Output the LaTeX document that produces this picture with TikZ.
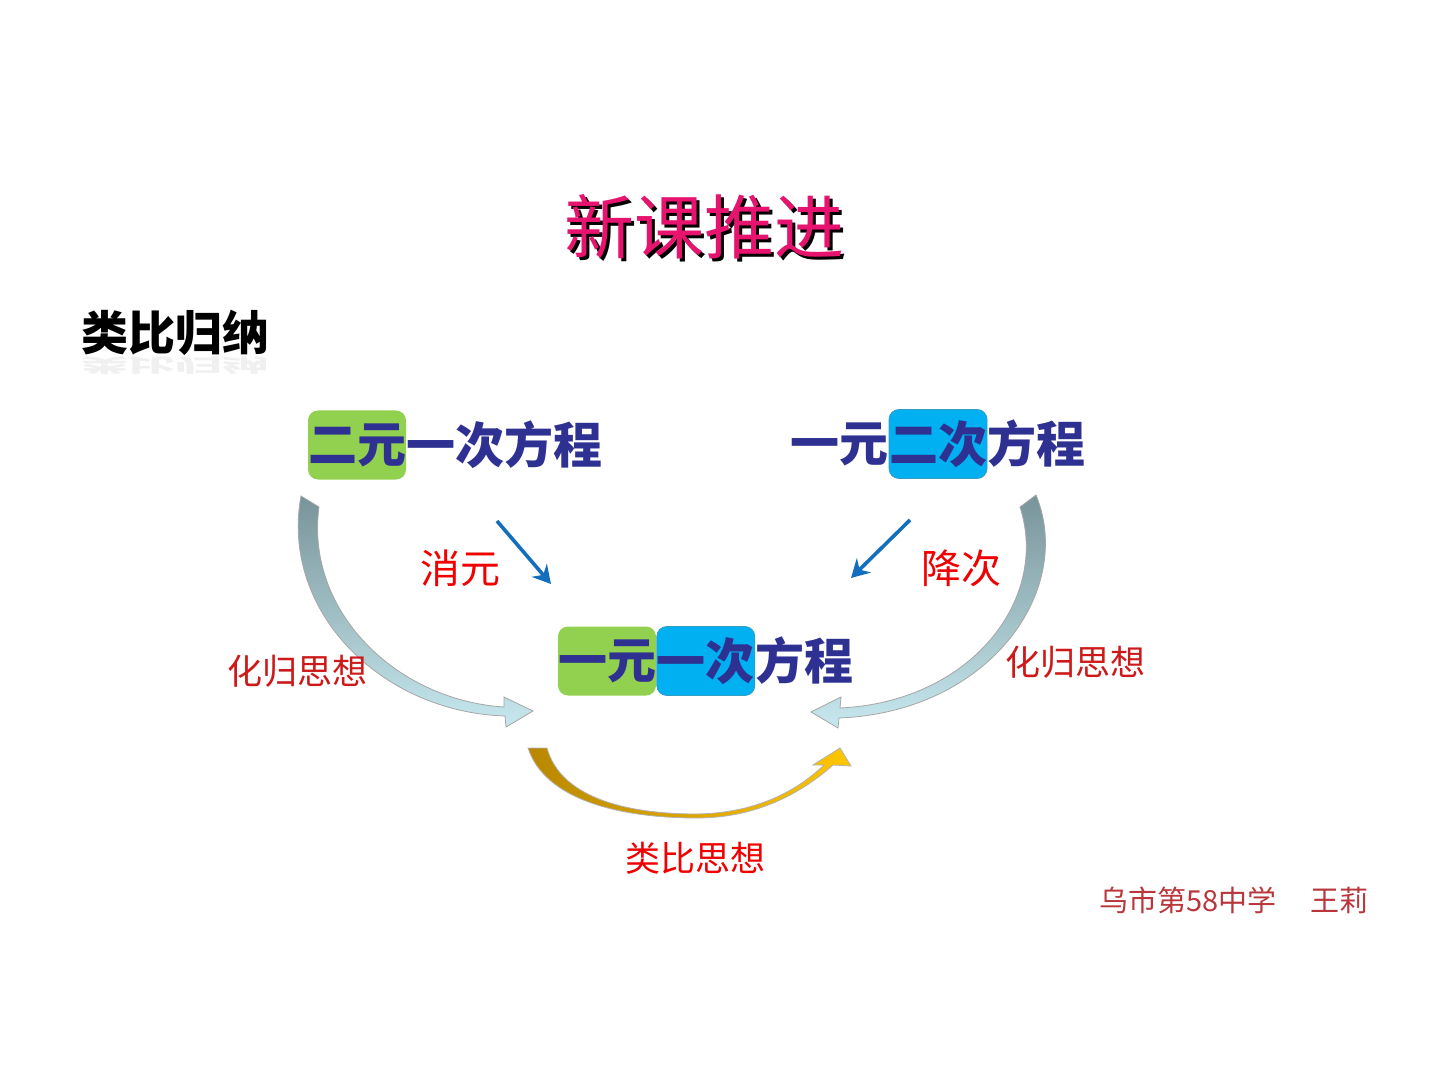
\documentclass[tikz,border=0pt]{standalone}
\usepackage{fontspec}
\usepackage{tikz}
\usetikzlibrary{arrows.meta,positioning}
\usepackage{xcolor}
\newfontfamily\cjk{Noto Sans CJK SC}
\definecolor{titlepink}{RGB}{230,20,110}
\definecolor{eqblue}{RGB}{46,49,146}
\definecolor{boxgreen}{RGB}{146,208,80}
\definecolor{boxblue}{RGB}{0,176,240}
\definecolor{arrowblue}{RGB}{20,110,190}
\definecolor{labelred}{RGB}{240,0,0}
\definecolor{ideared}{RGB}{205,25,25}
\definecolor{signred}{RGB}{185,55,60}
\definecolor{ribbontop}{RGB}{120,148,154}
\definecolor{ribbonbot}{RGB}{198,232,238}
\definecolor{golddark}{RGB}{185,135,0}
\definecolor{goldlight}{RGB}{255,198,0}
\tikzset{
  titletext/.style={
    inner sep=0pt,
    text=titlepink,
    font=\cjk\fontsize{35}{40}\selectfont
  },
  headtext/.style={
    inner sep=0pt,
    font=\cjk\bfseries\fontsize{23.5}{28}\selectfont
  },
  eqtext/.style={
    inner sep=0pt,
    text=eqblue,
    font=\cjk\bfseries\fontsize{24.5}{28}\selectfont
  },
  greenbox/.style={
    eqtext,
    fill=boxgreen,
    rounded corners=5pt,
    minimum width=48pt,
    minimum height=34.5pt
  },
  bluebox/.style={
    eqtext,
    fill=boxblue,
    draw=boxblue!60!gray,
    rounded corners=5pt,
    minimum width=48pt,
    minimum height=34.5pt
  },
  steptext/.style={
    inner sep=0pt,
    text=labelred,
    font=\cjk\fontsize{20}{24}\selectfont
  },
  ideatext/.style={
    inner sep=0pt,
    text=ideared,
    font=\cjk\fontsize{17.5}{21}\selectfont
  },
  signtext/.style={
    inner sep=0pt,
    text=signred,
    font=\cjk\fontsize{14.5}{18}\selectfont
  },
  stepline/.style={
    -{Stealth[length=9pt,width=10pt,inset=3pt]},
    line width=1.8pt,
    draw=arrowblue
  },
  grayribbon/.style={
    top color=ribbontop,
    bottom color=ribbonbot,
    draw=gray!70,
    line width=0.4pt
  },
  goldribbon/.style={
    left color=golddark,
    right color=goldlight,
    draw=gray!60,
    line width=0.4pt
  }
}

\begin{document}
\begin{tikzpicture}[x=0.5pt,y=-0.5pt]
\useasboundingbox[fill=white] (0,0) rectangle (1440,1080);

% title with shadow
\node[titletext, text=black] (title-shadow) at (707,230) {新课推进};
\node[titletext] (title) at (704,227) {新课推进};

\node[headtext] (head) at (175,333) {类比归纳};
\node[headtext, text=black, opacity=0.06] (head-mirror) at (175,366)
  {\scalebox{1}[-0.4]{类比归纳}};

% equations
\node[greenbox] (ee-box) at (357,445) {二元};
\node[eqtext, right=0pt of ee-box] (ee-rest) {一次方程};

\node[bluebox] (ye-box) at (938,444) {二次};
\node[eqtext, left=0pt of ye-box] (ye-head) {一元};
\node[eqtext, right=0pt of ye-box] (ye-rest) {方程};

\node[greenbox] (yy-box) at (607,661) {一元};
\node[bluebox, right=0pt of yy-box] (yy-mid) {一次};
\node[eqtext, right=0pt of yy-mid] (yy-rest) {方程};

% steps
\coordinate (xiao-from) at (497,521);
\coordinate (xiao-to) at (551,584);
\coordinate (jiang-from) at (910,520);
\coordinate (jiang-to) at (851,578);
\draw[stepline] (xiao-from) -- (xiao-to);
\draw[stepline] (jiang-from) -- (jiang-to);
\node[steptext] (xiao) at (460,568) {消元};
\node[steptext] (jiang) at (961,568) {降次};

% curved arrows
\path[grayribbon] (301,496)
  .. controls (280,610) and (380,712) .. (505,716)
  -- (506,727) -- (533,711) -- (504,697) -- (504,707)
  .. controls (395,700) and (305,610) .. (319,507) -- cycle;
\path[grayribbon] (1036,495)
  .. controls (1075,590) and (990,712) .. (839,718)
  -- (838,728) -- (811,712) -- (841,697) -- (840,708)
  .. controls (970,702) and (1050,600) .. (1020,507) -- cycle;
\path[goldribbon] (528,748)
  .. controls (545,800) and (620,818) .. (697,818)
  .. controls (760,818) and (805,790) .. (833,765)
  -- (851,766) -- (840,748) -- (813,765) -- (824,765)
  .. controls (800,788) and (760,813) .. (697,814)
  .. controls (620,814) and (560,795) .. (547,748) -- cycle;

\node[ideatext] (idea-left) at (297,671) {化归思想};
\node[ideatext] (idea-right) at (1075,662) {化归思想};
\node[ideatext, text=labelred] (idea-bottom) at (695,858) {类比思想};

\node[signtext] (sign) at (1234,900) {乌市第58中学\hspace{1.2em}王莉};
\end{tikzpicture}
\end{document}
